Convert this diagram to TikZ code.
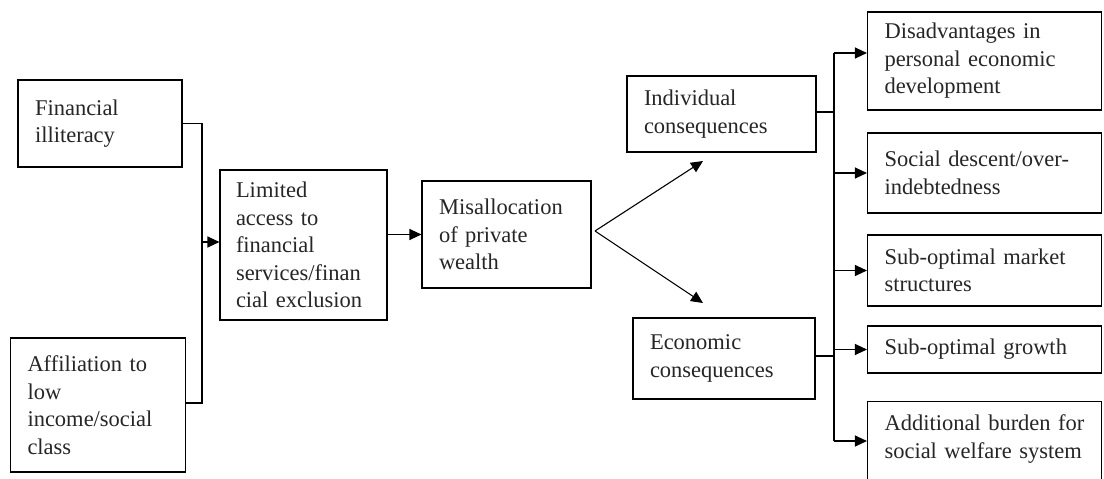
\documentclass[tikz,border=0pt]{standalone}
\usepackage{fontspec}
\setmainfont{Liberation Serif}
\usetikzlibrary{arrows.meta}
\tikzset{
  box/.style={draw, line width=1.1pt, align=left, inner xsep=17pt, inner ysep=3pt,
    font=\fontsize{22.5}{27.5}\selectfont, text=black!85},
  conn/.style={line width=1.1pt},
  arr/.style={line width=1.1pt, -{Triangle[length=12pt,width=11pt]}}
}
\begin{document}
\begin{tikzpicture}[x=1pt,y=-1pt]
\useasboundingbox (0,0) rectangle (1104,479);
\clip (0,0) rectangle (1104,479);
\fill[white] (0,0) rectangle (1104,479);
% left column
\node[box, text width=130pt, minimum height=87pt] (fin) at (100,123.5) {Financial\\illiteracy};
\node[box, text width=141pt, minimum height=134pt] (aff) at (98,405) {Affiliation to\\low\\income/social\\class};
\node[box, text width=135pt, minimum height=150pt, inner xsep=16pt] (lim) at (303.5,245) {Limited\\access to\\financial\\services/finan\\cial exclusion};
\node[box, text width=135pt, minimum height=107pt] (mis) at (506.5,234.5) {Misallocation\\of private\\wealth};
\node[box, text width=155pt, minimum height=76pt] (ind) at (721.5,114) {Individual\\consequences};
\node[box, text width=148pt, minimum height=81pt] (eco) at (724,358.5) {Economic\\consequences};
% right column
\node[box, text width=200pt, minimum height=98pt] (r1) at (984.5,61) {Disadvantages in\\personal economic\\development};
\node[box, text width=200pt, minimum height=80pt] (r2) at (984.5,173) {Social descent/over-\\indebtedness};
\node[box, text width=200pt, minimum height=71pt] (r3) at (984.5,270.5) {Sub-optimal market\\structures};
\node[box, text width=200pt, minimum height=47pt] (r4) at (984.5,349.5) {Sub-optimal growth};
\node[box, text width=200pt, inner ysep=13.5pt, anchor=north] (r5) at (984.5,401) {Additional burden for\\social welfare system\\\mbox{}};
% left bus
\coordinate (busT) at (202,123.5);
\coordinate (busB) at (202,403);
\draw[conn] (fin.east) -- (busT) -- (busB) -- (busB -| aff.east);
\draw[arr] (busT |- 0,242) -- (lim.west |- 0,242);
\draw[arr] (lim.east |- mis.west) -- (mis.west);
% fork
\coordinate (fork) at (595,231);
\coordinate (indtip) at (703,161);
\coordinate (ecotip) at (703,303);
\draw[arr] (fork) -- (indtip);
\draw[arr] (fork) -- (ecotip);
% right bus
\coordinate (bus2T) at (834,53);
\coordinate (bus2B) at (834,441);
\draw[conn] (bus2T) -- (bus2B);
\draw[conn] (ind.east |- 0,112) -- (bus2T |- 0,112);
\draw[conn] (eco.east |- 0,356) -- (bus2T |- 0,356);
\draw[arr] (bus2T) -- (bus2T -| r1.west);
\draw[arr] (bus2T |- r2.west) -- (r2.west);
\draw[arr] (bus2T |- r3.west) -- (r3.west);
\draw[arr] (bus2T |- r4.west) -- (r4.west);
\draw[arr] (bus2B) -- (bus2B -| r5.west);
\end{tikzpicture}
\end{document}
